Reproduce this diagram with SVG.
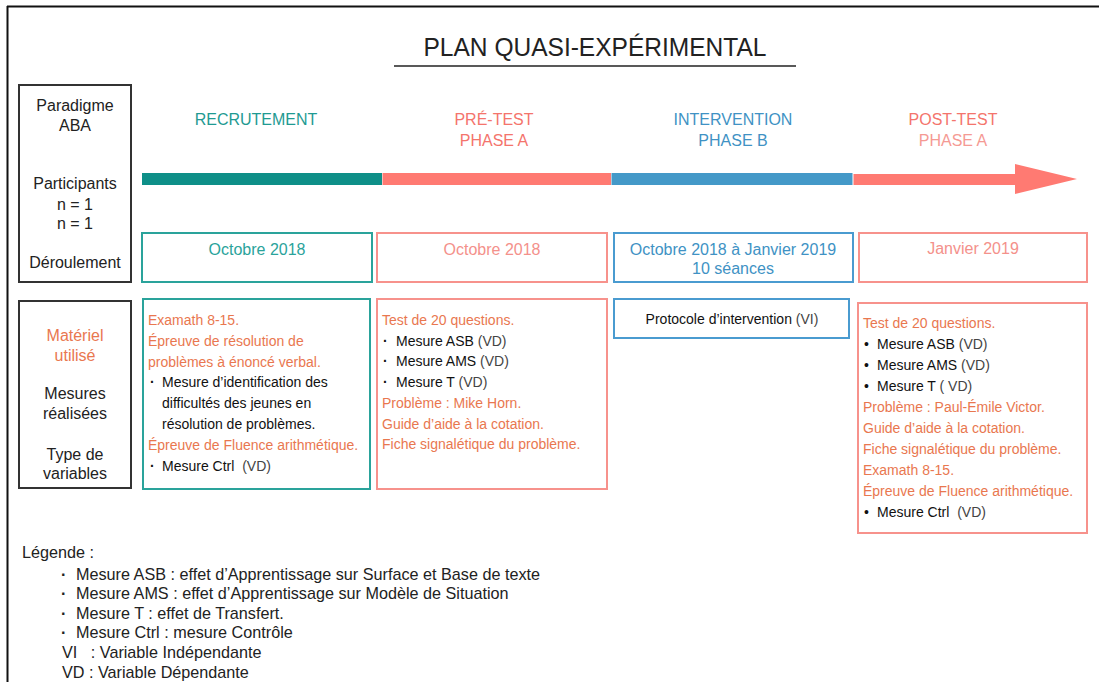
<svg xmlns="http://www.w3.org/2000/svg" width="1099" height="682" viewBox="0 0 1099 682">
<style>
text{font-family:"Liberation Sans",Arial,Helvetica,sans-serif;}
.lbl{font-size:16px;fill:#222;text-anchor:middle;}
.hd{font-size:16px;text-anchor:middle;}
.bx{fill:#fff;stroke-width:2;}
.t{font-size:14px;}
.o{fill:#e9774f;}
.k{fill:#111;}
.g{fill:#444;}
.teal{fill:#1f9a92;}
.pink{fill:#f4746c;}
.pinkl{fill:#f59a94;}
.blue{fill:#4092c4;}
.leg{font-size:16.2px;fill:#222;}
.dot{font-weight:bold;}
</style>
<rect x="0" y="0" width="1099" height="682" fill="#fff"/>
<g id="frame">
<line x1="7.5" y1="6" x2="7.5" y2="682" stroke="#111" stroke-width="2"/>
<line x1="7" y1="6.5" x2="1099" y2="6.5" stroke="#111" stroke-width="2"/>
</g>
<g id="title">
<text x="595" y="56" font-size="25" fill="#222" text-anchor="middle" textLength="343" lengthAdjust="spacingAndGlyphs">PLAN QUASI-EXPÉRIMENTAL</text>
<line x1="394" y1="66" x2="796" y2="66" stroke="#222" stroke-width="1.5"/>
</g>
<g id="label-paradigme">
<rect x="19" y="85" width="112" height="197" fill="#fff" stroke="#333" stroke-width="2"/>
<text class="lbl" x="75" y="111">Paradigme</text>
<text class="lbl" x="75" y="131">ABA</text>
<text class="lbl" x="75" y="189">Participants</text>
<text class="lbl" x="75" y="210">n = 1</text>
<text class="lbl" x="75" y="229">n = 1</text>
<text class="lbl" x="75" y="268">Déroulement</text>
</g>
<g id="label-materiel">
<rect x="19" y="301" width="112" height="187" fill="#fff" stroke="#333" stroke-width="2"/>
<text class="lbl o" x="75" y="341">Matériel</text>
<text class="lbl o" x="75" y="361">utilisé</text>
<text class="lbl" x="75" y="399" fill="#111">Mesures</text>
<text class="lbl" x="75" y="419" fill="#111">réalisées</text>
<text class="lbl" x="75" y="460">Type de</text>
<text class="lbl" x="75" y="479">variables</text>
</g>
<g id="connectors">
<rect x="142" y="173" width="240" height="12" fill="#0e8f88"/>
<rect x="382.5" y="173" width="228.5" height="12" fill="#ff7a72"/>
<rect x="611.5" y="173" width="241" height="12" fill="#4499c8"/>
<path d="M853.5,174 H1015 V164 L1077,179 L1015,194 V185 H853.5 Z" fill="#ff7a72"/>
</g>
<g id="phase-recrutement">
<text class="hd teal" x="256" y="125">RECRUTEMENT</text>
</g>
<g id="phase-pretest">
<text class="hd pink" x="494" y="125">PRÉ-TEST</text>
<text class="hd pink" x="494" y="146">PHASE A</text>
</g>
<g id="phase-intervention">
<text class="hd blue" x="733" y="125">INTERVENTION</text>
<text class="hd blue" x="733" y="146">PHASE B</text>
</g>
<g id="phase-posttest">
<text class="hd pink" x="953" y="125">POST-TEST</text>
<text class="hd pinkl" x="953" y="146">PHASE A</text>
</g>
<g id="date-recrutement">
<rect class="bx" x="142" y="233" width="230" height="49" stroke="#2aa39b"/>
<text class="hd" x="257" y="255" fill="#2aa39b">Octobre 2018</text>
</g>
<g id="date-pretest">
<rect class="bx" x="377" y="233" width="230" height="49" stroke="#f7928c"/>
<text class="hd" x="492" y="255" fill="#f4918b">Octobre 2018</text>
</g>
<g id="date-intervention">
<rect class="bx" x="614" y="233" width="239" height="49" stroke="#4a9bd0"/>
<text class="hd" x="733" y="255" fill="#4092c4">Octobre 2018 à Janvier 2019</text>
<text class="hd" x="733" y="274" fill="#4092c4">10 séances</text>
</g>
<g id="date-posttest">
<rect class="bx" x="859" y="233" width="228" height="49" stroke="#f7928c"/>
<text class="hd" x="973" y="254" fill="#f4918b">Janvier 2019</text>
</g>
<g id="materiel-recrutement">
<rect class="bx" x="143" y="299" width="227" height="190" stroke="#2aa39b"/>
<text class="t o" x="148" y="325">Examath 8-15.</text>
<text class="t o" x="148" y="346">Épreuve de résolution de</text>
<text class="t o" x="148" y="367">problèmes à énoncé verbal.</text>
<text class="t k dot" x="150" y="387">·</text>
<text class="t k" x="162" y="387">Mesure d’identification des</text>
<text class="t k" x="162" y="408">difficultés des jeunes en</text>
<text class="t k" x="162" y="429">résolution de problèmes.</text>
<text class="t o" x="148" y="450">Épreuve de Fluence arithmétique.</text>
<text class="t k dot" x="150" y="471">·</text>
<text class="t" x="162" y="471" xml:space="preserve"><tspan class="k">Mesure Ctrl</tspan><tspan class="g">  (VD)</tspan></text>
</g>
<g id="materiel-pretest">
<rect class="bx" x="377" y="299" width="230" height="190" stroke="#f7928c"/>
<text class="t o" x="382" y="325">Test de 20 questions.</text>
<text class="t k dot" x="383" y="346">·</text>
<text class="t" x="396" y="346"><tspan class="k">Mesure ASB</tspan><tspan class="g"> (VD)</tspan></text>
<text class="t k dot" x="383" y="366">·</text>
<text class="t" x="396" y="366"><tspan class="k">Mesure AMS</tspan><tspan class="g"> (VD)</tspan></text>
<text class="t k dot" x="383" y="387">·</text>
<text class="t" x="396" y="387"><tspan class="k">Mesure T</tspan><tspan class="g"> (VD)</tspan></text>
<text class="t o" x="382" y="408">Problème : Mike Horn.</text>
<text class="t o" x="382" y="429">Guide d’aide à la cotation.</text>
<text class="t o" x="382" y="449">Fiche signalétique du problème.</text>
</g>
<g id="materiel-intervention">
<rect class="bx" x="614" y="299" width="235" height="39" stroke="#4a9bd0"/>
<text class="t" x="732" y="324" text-anchor="middle"><tspan class="k">Protocole d’intervention</tspan><tspan class="g"> (VI)</tspan></text>
</g>
<g id="materiel-posttest">
<rect class="bx" x="858" y="303" width="229" height="230" stroke="#f7928c"/>
<text class="t o" x="863" y="328">Test de 20 questions.</text>
<text class="t k" x="864" y="349">•</text>
<text class="t" x="877" y="349"><tspan class="k">Mesure ASB</tspan><tspan class="g"> (VD)</tspan></text>
<text class="t k" x="864" y="370">•</text>
<text class="t" x="877" y="370"><tspan class="k">Mesure AMS</tspan><tspan class="g"> (VD)</tspan></text>
<text class="t k" x="864" y="391">•</text>
<text class="t" x="877" y="391"><tspan class="k">Mesure T</tspan><tspan class="g"> ( VD)</tspan></text>
<text class="t o" x="863" y="412">Problème : Paul-Émile Victor.</text>
<text class="t o" x="863" y="433">Guide d’aide à la cotation.</text>
<text class="t o" x="863" y="454">Fiche signalétique du problème.</text>
<text class="t o" x="863" y="475">Examath 8-15.</text>
<text class="t o" x="863" y="496">Épreuve de Fluence arithmétique.</text>
<text class="t k" x="864" y="517">•</text>
<text class="t" x="877" y="517" xml:space="preserve"><tspan class="k">Mesure Ctrl</tspan><tspan class="g">  (VD)</tspan></text>
</g>
<g id="legende">
<text class="leg" x="22" y="558" fill="#444">Légende :</text>
<text class="leg dot" x="61" y="580">·</text>
<text class="leg" x="76" y="580">Mesure ASB : effet d’Apprentissage sur Surface et Base de texte</text>
<text class="leg dot" x="61" y="599">·</text>
<text class="leg" x="76" y="599">Mesure AMS : effet d’Apprentissage sur Modèle de Situation</text>
<text class="leg dot" x="61" y="619">·</text>
<text class="leg" x="76" y="619">Mesure T : effet de Transfert.</text>
<text class="leg dot" x="61" y="638">·</text>
<text class="leg" x="76" y="638">Mesure Ctrl : mesure Contrôle</text>
<text class="leg" x="62" y="658" xml:space="preserve">VI   : Variable Indépendante</text>
<text class="leg" x="62" y="678">VD : Variable Dépendante</text>
</g>
</svg>
